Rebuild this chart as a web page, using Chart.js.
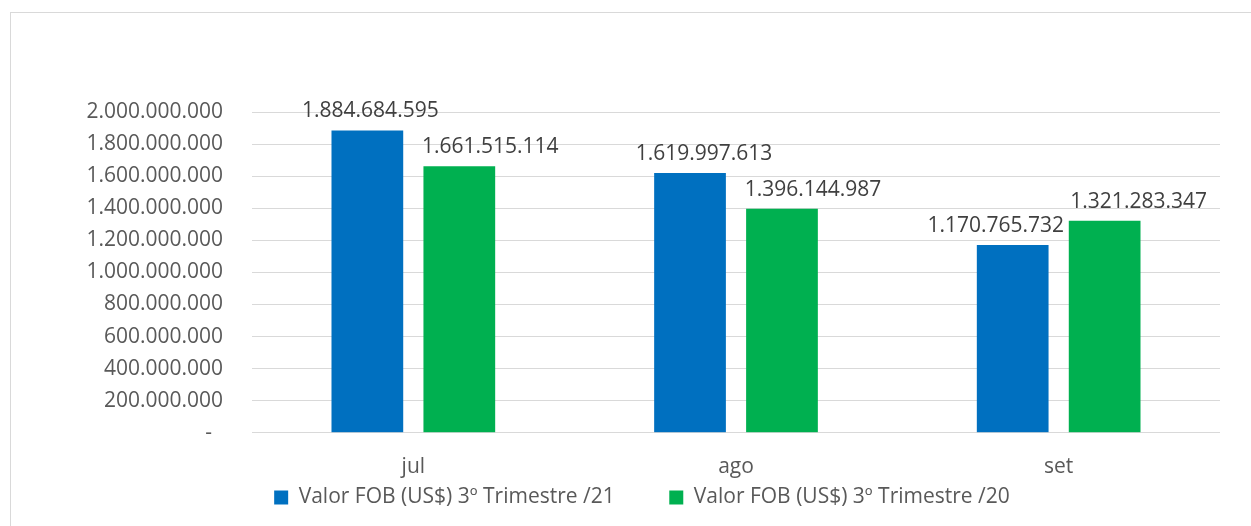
<!DOCTYPE html>
<html>
<head>
<meta charset="utf-8">
<script src="https://cdn.jsdelivr.net/npm/chart.js@4/dist/chart.umd.min.js"></script>
<style>
  html, body { margin: 0; padding: 0; background: #fff; }
  #frame {
    position: absolute; left: 10px; top: 12px; right: -5px; bottom: -5px;
    border-left: 1px solid #d9d9d9; border-top: 1px solid #d9d9d9;
  }
  #wrap { position: absolute; left: 0; top: 0; width: 1251px; height: 526px; }
</style>
</head>
<body>
<div id="frame"></div>
<div id="wrap"><canvas id="grafico"></canvas></div>
<script>
// dados
const meses = ["jul", "ago", "set"];
const valor21 = [1884684595, 1619997613, 1170765732];
const valor20 = [1661515114, 1396144987, 1321283347];
const nome21 = "Valor FOB (US$) 3º Trimestre /21";
const nome20 = "Valor FOB (US$) 3º Trimestre /20";
const escalaMax = 2000000000;
const escalaPasso = 200000000;

const fonte = "'Open Sans', 'Liberation Sans', sans-serif";

// formato pt-BR com pontos
function formatar(v) {
  return String(Math.round(v)).replace(/\B(?=(\d{3})+(?!\d))/g, ".");
}

// rótulos em cima das barras
const rotulosPlugin = {
  id: "rotulos",
  afterDatasetsDraw(chart, args, opts) {
    const ctx = chart.ctx;
    ctx.save();
    ctx.font = "21px " + fonte;
    ctx.fillStyle = "#404040";
    ctx.textAlign = "center";
    ctx.textBaseline = "middle";
    chart.data.datasets.forEach((ds, i) => {
      const meta = chart.getDatasetMeta(i);
      const desloc = opts.desloc[i] || [];
      meta.data.forEach((bar, j) => {
        ctx.fillText(formatar(ds.data[j]), bar.x + (desloc[j] || 0), bar.y - 19);
      });
    });
    ctx.restore();
  },
};

new Chart(document.getElementById("grafico"), {
  type: "bar",
  data: {
    labels: meses,
    datasets: [
      {
        label: nome21,
        data: valor21,
        backgroundColor: "#0070c0",
        categoryPercentage: 0.57,
        barPercentage: 0.78,
      },
      {
        label: nome20,
        data: valor20,
        backgroundColor: "#00b050",
        categoryPercentage: 0.57,
        barPercentage: 0.78,
      },
    ],
  },
  plugins: [rotulosPlugin],
  options: {
    responsive: true,
    maintainAspectRatio: false,
    animation: false,
    layout: {
      padding: { left: 64, right: 31, top: 112, bottom: 8 },
    },
    plugins: {
      legend: {
        position: "bottom",
        labels: {
          boxWidth: 14,
          boxHeight: 14,
          padding: 0,
          color: "#595959",
          font: { family: fonte, size: 21 },
          // espaço entre os itens da legenda
          generateLabels(chart) {
            const itens = Chart.defaults.plugins.legend.labels.generateLabels(chart);
            itens.forEach((it, i) => {
              if (i < itens.length - 1) it.text += "          ";
            });
            return itens;
          },
        },
      },
      tooltip: { enabled: false },
      rotulos: {
        desloc: [[3, 14, -17], [31, 31, 34]],
      },
    },
    scales: {
      x: {
        grid: { display: false },
        border: { display: false },
        afterFit(scale) {
          scale.height -= 7;
        },
        ticks: {
          color: "#595959",
          padding: 14,
          font: { family: fonte, size: 21 },
        },
      },
      y: {
        min: 0,
        max: escalaMax,
        border: { display: false },
        grid: { color: "#d9d9d9", lineWidth: 1, drawTicks: false },
        afterFit(scale) {
          scale.width = 188;
        },
        ticks: {
          stepSize: escalaPasso,
          padding: 29,
          color: "#595959",
          font: { family: fonte, size: 21 },
          callback: (v) => (v === 0 ? "-  " : formatar(v)),
        },
      },
    },
  },
});
</script>
</body>
</html>
